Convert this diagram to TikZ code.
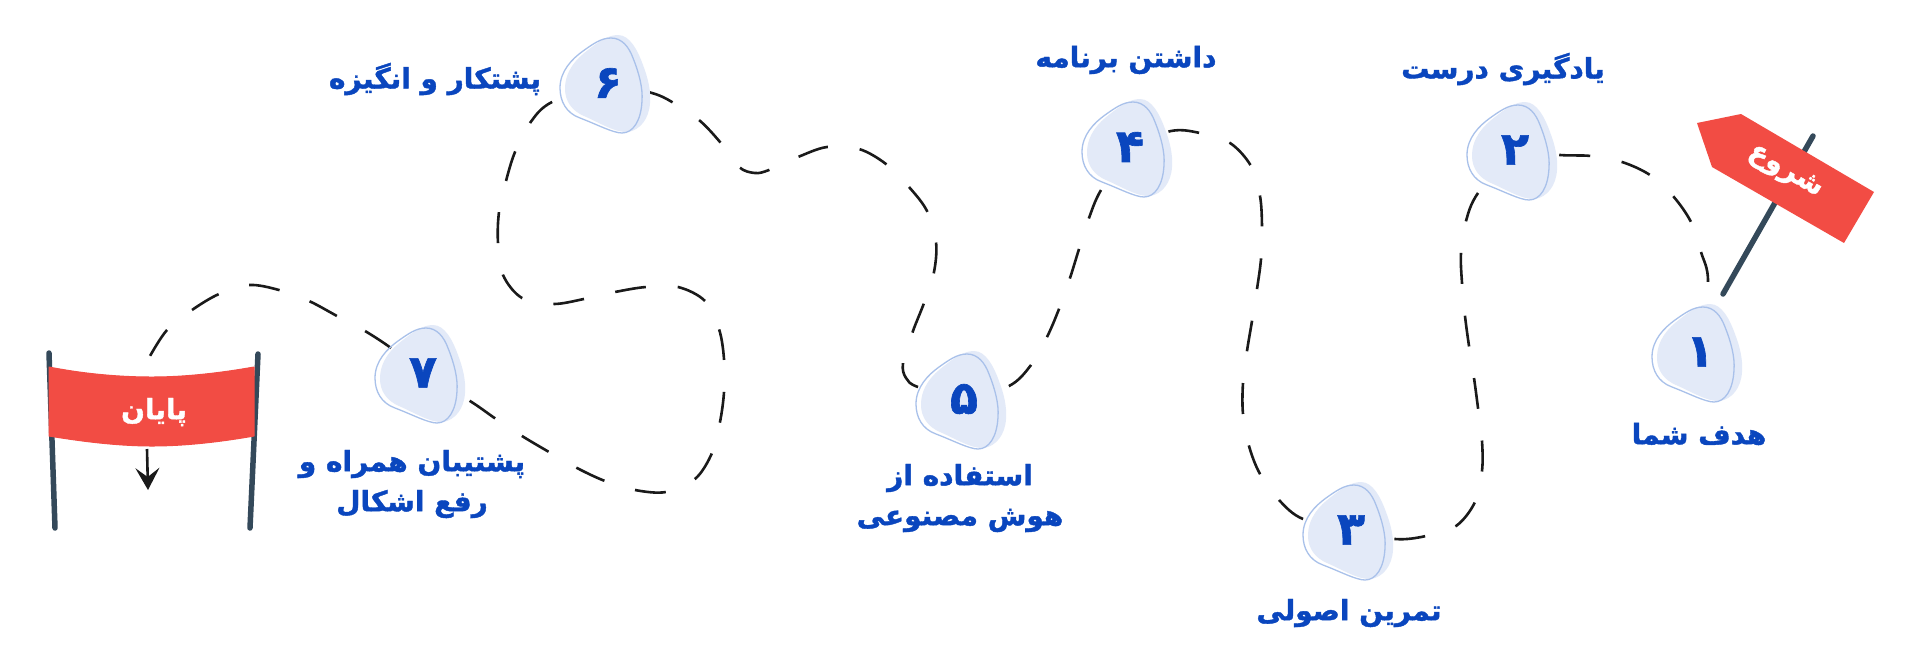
\documentclass[tikz,border=0pt]{standalone}
\usepackage{fontspec}
\usetikzlibrary{arrows.meta,backgrounds}
\TeXXeTstate=1
\newfontfamily\arabicfont[Script=Arabic,BoldFeatures={FakeBold=1.4}]{DejaVu Sans}
\definecolor{inkblue}{HTML}{0A46BE}
\definecolor{palefill}{HTML}{E3EAF8}
\definecolor{blobline}{HTML}{A9C1EA}
\definecolor{signred}{HTML}{F24C44}
\definecolor{poledark}{HTML}{34495A}
\definecolor{dashink}{HTML}{1A1A1A}
\tikzset{
  x=1pt,y=-1pt,
  digitnode/.style={inner sep=0pt,text=inkblue,font=\arabicfont\bfseries\fontsize{46}{50}\selectfont},
  labelnode/.style={inner sep=0pt,text=inkblue,align=center,font=\arabicfont\bfseries\fontsize{28}{40}\selectfont},
  whitelabel/.style={inner sep=0pt,text=white,font=\arabicfont\bfseries\fontsize{28}{32}\selectfont},
  pathline/.style={draw=dashink,line width=2.6pt,dash pattern=on 31pt off 32pt,dash phase=#1},
  polestyle/.style={draw=poledark,line width=5.5pt,line cap=round},
  bannerstyle/.style={fill=signred,draw=signred,line width=1pt,line join=round},
}
\newcommand{\blobnode}[4]{%
  \begin{scope}[shift={(#2,#3)}]
    \fill[palefill] (10,-48) .. controls (22,-48) and (30,-32) .. (35,-18) .. controls (40,-5) and (43,8) .. (42,20) .. controls (41,36) and (32,47) .. (20,49) .. controls (8,50) and (-8,40) .. (-24,33) .. controls (-36,28) and (-43,18) .. (-43,6) .. controls (-43,-12) and (-32,-24) .. (-20,-33) .. controls (-10,-41) and (0,-48) .. (10,-48) -- cycle;
    \draw[blobline,line width=1.3pt] (3,-45) .. controls (14,-45) and (21,-36) .. (25,-25) .. controls (31,-10) and (35,5) .. (34,18) .. controls (33,38) and (25,50) .. (14,50) .. controls (5,50) and (-12,41) .. (-28,35) .. controls (-42,30) and (-48,18) .. (-48,5) .. controls (-48,-12) and (-36,-24) .. (-25,-32) .. controls (-15,-39) and (-7,-45) .. (3,-45) -- cycle;
  \end{scope}
  \node[digitnode] (#1) at (#2,#3) {\beginR#4\endR};
}
\begin{document}
\begin{tikzpicture}
\useasboundingbox (0,0) rectangle (1920,657);
\begin{pgfonlayer}{background}
\fill[white] (0,0) rectangle (1920,657);
\end{pgfonlayer}

% step markers
\blobnode{n1}{1700}{352}{۱}
\blobnode{n2}{1515}{150}{۲}
\blobnode{n3}{1351}{530}{۳}
\blobnode{n4}{1130}{147}{۴}
\blobnode{n5}{964}{399}{۵}
\blobnode{n6}{608}{83}{۶}
\blobnode{n7}{423}{373}{۷}

% labels
\node[labelnode] (l1) at (1699,434) {\beginR هدف شما\endR};
\node[labelnode] (l2) at (1503,69) {\beginR یادگیری درست\endR};
\node[labelnode] (l3) at (1349,613) {\beginR تمرین اصولی\endR};
\node[labelnode] (l4) at (1126,60) {\beginR داشتن برنامه\endR};
\node[labelnode] (l5) at (960,498) {\beginR استفاده از\endR\\\beginR هوش مصنوعی\endR};
\node[labelnode] (l6) at (435,79) {\beginR پشتکار و انگیزه\endR};
\node[labelnode] (l7) at (412,484) {\beginR پشتیبان همراه و\endR\\\beginR رفع اشکال\endR};

% start sign
\coordinate (poletop) at (1813,136);
\coordinate (polefoot) at (1723,294);
\draw[polestyle] (polefoot) -- (poletop);
\fill[signred] (1697,123) -- (1741,114) -- (1874,192) -- (1844,243) -- (1712,167) -- cycle;
\node[whitelabel,rotate=-30] (startlabel) at (1785,172) {\beginR شروع\endR};

% finish banner
\coordinate (lefttop) at (49,353);
\coordinate (leftfoot) at (55,528);
\coordinate (righttop) at (258,354);
\coordinate (rightfoot) at (250,528);
\draw[polestyle] (leftfoot) -- (lefttop);
\draw[polestyle] (rightfoot) -- (righttop);
\fill[bannerstyle] (49,367) .. controls (85,374) and (120,377) .. (152,377) .. controls (185,377) and (220,373) .. (254,367) -- (254,436) .. controls (220,442) and (185,446) .. (152,446) .. controls (120,446) and (85,442) .. (49,436) -- cycle;
\node[whitelabel] (flag) at (154,412) {\beginR پایان\endR};
\coordinate (arrowstart) at (147,449);
\coordinate (arrowend) at (148,490);
\draw[draw=dashink,line width=2.6pt,-{Stealth[length=22pt,width=24pt,inset=9pt]}] (arrowstart) -- (arrowend);
\coordinate (flagin) at (150,356);

% dashed route
\begin{pgfonlayer}{background}
\draw[pathline=55.5] plot[smooth,tension=0.55] coordinates {(n1.center) (1708,282) (1701,252) (1691,222) (1673,196) (1650,175) (1622,162) (1591,156) (1560,155) (n2.center)};
\draw[pathline=6.3] plot[smooth,tension=0.55] coordinates {(n2.center) (1478,193) (1466,221) (1461,253) (1462,283) (1465,316) (1469,346) (1474,378) (1478,408) (1482,441) (1482,471) (1475,502) (1456,526) (1426,536) (1395,539) (n3.center)};
\draw[pathline=13.8] plot[smooth,tension=0.55] coordinates {(n3.center) (1303,519) (1279,500) (1260,474) (1249,446) (1243,414) (1243,383) (1247,351) (1252,321) (1257,289) (1261,259) (1262,227) (1260,196) (1251,166) (1230,143) (1200,133) (1171,131) (n4.center)};
\draw[pathline=11.1] plot[smooth,tension=0.55] coordinates {(n4.center) (1101,190) (1089,218) (1079,249) (1070,278) (1059,309) (1047,337) (1031,365) (1009,386) (n5.center)};
\draw[pathline=15.5] plot[smooth,tension=0.55] coordinates {(n5.center) (918,387) (906,378) (903,363) (913,331) (924,303) (934,272) (936,242) (927,211) (909,187) (886,164) (859,149) (827,147) (798,157) (769,170) (755,173) (739,167) (720,142) (699,120) (672,102) (652,93) (n6.center)};
\draw[pathline=4] plot[smooth,tension=0.55] coordinates {(n6.center) (552,102) (530,123) (515,152) (506,181) (499,212) (498,243) (503,275) (522,298) (553,304) (584,299) (615,292) (646,287) (678,287) (705,301) (719,329) (724,359) (724,392) (720,422) (712,453) (695,479) (666,492) (635,490) (605,481) (577,468) (549,452) (522,436) (496,419) (470,401) (n7.center)};
\draw[pathline=22.4] plot[smooth,tension=0.55] coordinates {(n7.center) (391,348) (365,331) (337,316) (309,301) (279,290) (249,285) (219,294) (192,310) (167,330) (flagin)};
\end{pgfonlayer}
\end{tikzpicture}
\end{document}
